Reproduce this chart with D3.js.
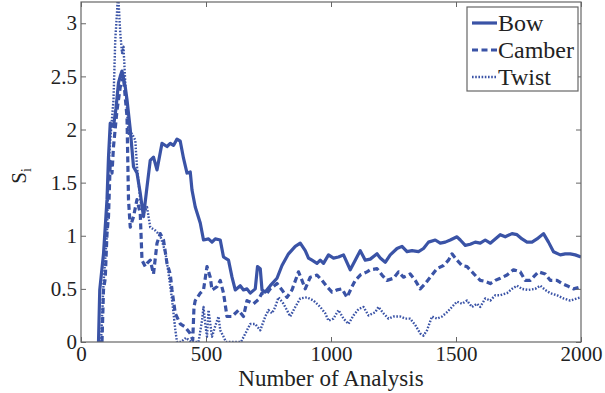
<!DOCTYPE html>
<html>
<head>
<meta charset="utf-8">
<script src="https://cdn.jsdelivr.net/npm/d3@7"></script>
</head>
<body style="margin:0">
<script>
// values: [number of analysis, S_i]
var bow = [[70,0],[75,0.49],[90,0.83],[104,1.34],[110,1.74],[117,2.06],[130,2.03],[140,2.2],[150,2.44],[157,2.5],[164,2.55],
  [177,2.40],[184,2.28],[197,2.0],[210,1.65],[224,1.59],[237,1.40],[250,1.18],[264,1.46],[277,1.71],[290,1.74],[304,1.62],
  [324,1.87],[344,1.84],[357,1.87],[370,1.85],[384,1.91],[397,1.89],[410,1.73],[424,1.59],[437,1.60],[444,1.43],[457,1.27],
  [477,1.12],[490,0.96],[510,0.97],[524,0.94],[537,0.97],[557,0.96],[570,0.80],[590,0.77],[604,0.61],[617,0.49],[637,0.53],
  [650,0.49],[664,0.50],[677,0.46],[697,0.50],[706,0.71],[717,0.69],[724,0.49],[737,0.47],[757,0.53],[784,0.60],[804,0.72],
  [830,0.83],[857,0.90],[877,0.93],[897,0.86],[910,0.79],[924,0.77],[944,0.74],[957,0.77],[970,0.74],[990,0.82],[1010,0.79],
  [1030,0.80],[1050,0.82],[1077,0.68],[1097,0.77],[1117,0.86],[1137,0.77],[1157,0.78],[1184,0.83],[1197,0.79],[1217,0.75],
  [1237,0.82],[1264,0.88],[1284,0.90],[1304,0.85],[1324,0.86],[1350,0.85],[1370,0.88],[1390,0.94],[1417,0.96],[1437,0.93],
  [1457,0.94],[1477,0.96],[1504,0.99],[1517,0.96],[1537,0.91],[1557,0.92],[1577,0.94],[1597,0.93],[1617,0.96],[1637,0.93],
  [1657,0.97],[1677,1.01],[1697,0.99],[1724,1.02],[1744,1.01],[1764,0.97],[1784,0.94],[1804,0.94],[1824,0.97],[1850,1.02],
  [1870,0.94],[1890,0.85],[1917,0.82],[1937,0.83],[1957,0.83],[1977,0.82],[2000,0.80]];

var camber = [[84,0],[90,0.49],[97,0.6],[104,1.02],[110,1.18],[117,1.7],[124,1.59],[130,1.84],[144,2.18],[157,2.40],[170,2.50],
  [177,2.3],[184,2.12],[190,1.34],[197,1.08],[210,1.18],[224,1.34],[237,1.21],[244,0.77],[257,0.71],[264,0.74],[277,0.77],
  [290,0.64],[304,0.93],[317,1.02],[330,0.96],[344,0.74],[357,0.64],[364,0.49],[377,0.27],[397,0.17],[417,0.14],[437,0.08],
  [447,0.02],[452,0.33],[457,0.39],[477,0.46],[490,0.49],[504,0.71],[517,0.61],[524,0.49],[544,0.52],[557,0.58],[570,0.46],
  [584,0.24],[604,0.24],[630,0.30],[650,0.24],[664,0.39],[690,0.36],[710,0.40],[724,0.46],[744,0.46],[757,0.50],[784,0.55],
  [804,0.49],[824,0.42],[844,0.49],[870,0.66],[884,0.58],[897,0.50],[917,0.61],[944,0.63],[964,0.58],[984,0.52],[1004,0.47],
  [1024,0.49],[1044,0.50],[1064,0.42],[1084,0.52],[1097,0.58],[1117,0.63],[1144,0.66],[1157,0.68],[1184,0.69],[1204,0.63],
  [1224,0.58],[1250,0.60],[1270,0.66],[1290,0.61],[1317,0.64],[1337,0.58],[1357,0.50],[1377,0.55],[1397,0.61],[1424,0.69],
  [1450,0.72],[1470,0.77],[1484,0.83],[1504,0.77],[1524,0.72],[1544,0.71],[1564,0.66],[1584,0.61],[1597,0.58],[1617,0.57],
  [1637,0.55],[1657,0.58],[1677,0.60],[1704,0.63],[1730,0.68],[1757,0.66],[1777,0.58],[1797,0.58],[1817,0.63],[1830,0.66],
  [1857,0.64],[1877,0.58],[1904,0.58],[1924,0.55],[1944,0.53],[1970,0.50],[2000,0.52]];

var twist = [[80,0],[90,0.55],[104,1.02],[110,1.65],[117,1.9],[130,2.28],[137,2.84],[144,3.1],[148,3.3],[157,2.91],[164,2.72],
  [170,2.78],[177,2.44],[190,1.96],[204,1.96],[217,1.90],[224,1.65],[237,1.34],[250,1.21],[264,1.27],[277,1.08],[297,1.05],
  [317,1.0],[337,0.85],[350,0.65],[364,0.40],[377,0.12],[384,0],[400,0],[420,0.04],[440,0],[470,0],[484,0.2],[490,0.33],
  [497,0.17],[504,0.05],[510,0.30],[524,0.05],[537,0.15],[550,0.24],[557,0.11],[570,0.05],[580,0],[640,0],[664,0.11],
  [677,0.17],[697,0.17],[717,0.11],[737,0.24],[750,0.30],[764,0.27],[777,0.33],[790,0.42],[810,0.36],[837,0.24],[857,0.33],
  [877,0.41],[904,0.42],[930,0.39],[957,0.33],[977,0.27],[990,0.20],[1010,0.22],[1030,0.30],[1050,0.22],[1070,0.17],
  [1090,0.25],[1110,0.31],[1130,0.33],[1150,0.25],[1177,0.28],[1190,0.33],[1210,0.27],[1230,0.22],[1250,0.24],[1277,0.24],
  [1297,0.22],[1317,0.22],[1337,0.16],[1357,0.08],[1370,0.06],[1384,0.11],[1404,0.24],[1424,0.22],[1444,0.24],[1464,0.28],
  [1484,0.33],[1504,0.38],[1524,0.36],[1544,0.39],[1564,0.33],[1584,0.36],[1597,0.33],[1617,0.41],[1637,0.39],[1657,0.44],
  [1677,0.44],[1704,0.46],[1724,0.50],[1744,0.53],[1764,0.50],[1790,0.49],[1817,0.50],[1837,0.53],[1857,0.49],[1877,0.46],
  [1904,0.44],[1930,0.41],[1957,0.39],[1984,0.41],[2000,0.42]];

var seriesNames = ['Bow', 'Camber', 'Twist'];
var xTicks = [0, 500, 1000, 1500, 2000];
var yTicks = [0, 0.5, 1, 1.5, 2, 2.5, 3];

var W = 605, H = 393;
var margin = {top: 2, right: 24, bottom: 51, left: 81};
var w = W - margin.left - margin.right;
var h = H - margin.top - margin.bottom;
var blue = '#3a53a6';
var serif = "'Liberation Serif'";
var styles = [
  {width: 3.2, dash: null},
  {width: 3.2, dash: '6,3.5'},
  {width: 2.4, dash: '1.6,1.6'}
];

// every text gets the serif face directly, d3 axes otherwise set sans-serif
function serifText(sel, size) {
  sel.attr('font-family', 'Liberation Serif')
    .attr('font-size', size)
    .style('font-family', serif)
    .style('font-size', size + 'px');
}

var svg = d3.select('body').append('svg')
  .attr('width', W).attr('height', H);
var g = svg.append('g').attr('transform', 'translate(' + margin.left + ',' + margin.top + ')');

var x = d3.scaleLinear().domain([0, 2000]).range([0, w]);
var y = d3.scaleLinear().domain([0, 3.2]).range([h, 0]);

g.append('clipPath').attr('id', 'plot-clip')
  .append('rect').attr('width', w).attr('height', h);

var line = d3.line()
  .x(function (d) { return x(d[0]); })
  .y(function (d) { return y(d[1]); });

var lines = g.append('g').attr('clip-path', 'url(#plot-clip)');
[twist, camber, bow].forEach(function (data, k) {
  var s = styles[2 - k];
  lines.append('path')
    .attr('d', line(data))
    .attr('fill', 'none')
    .attr('stroke', blue)
    .attr('stroke-width', s.width)
    .attr('stroke-linejoin', 'round')
    .attr('stroke-dasharray', s.dash);
});

// MATLAB style box with inward ticks on all sides
var axisColor = '#666';
function styleAxis(sel) {
  sel.attr('font-family', 'Liberation Serif').attr('font-size', 21);
  sel.select('.domain').remove();
  sel.selectAll('.tick line').attr('stroke', axisColor).attr('stroke-width', 1);
  sel.selectAll('.tick text').attr('fill', '#222').call(serifText, 21);
}

g.append('g').attr('transform', 'translate(0,' + h + ')')
  .call(d3.axisBottom(x).tickValues(xTicks).tickSize(-5).tickPadding(7).tickFormat(d3.format('d')))
  .call(styleAxis)
  .selectAll('.tick text').attr('dy', '0.57em');
g.append('g')
  .call(d3.axisTop(x).tickValues(xTicks).tickSize(-5).tickFormat(''))
  .call(styleAxis);
g.append('g')
  .call(d3.axisLeft(y).tickValues(yTicks).tickSize(-5).tickPadding(4).tickFormat(function (d) { return d; }))
  .call(styleAxis);
g.append('g').attr('transform', 'translate(' + w + ',0)')
  .call(d3.axisRight(y).tickValues(yTicks).tickSize(-5).tickFormat(''))
  .call(styleAxis);

g.append('rect')
  .attr('width', w).attr('height', h)
  .attr('fill', 'none').attr('stroke', axisColor).attr('stroke-width', 1.2);

// axis labels
svg.append('text')
  .attr('x', margin.left + w / 2)
  .attr('y', 386)
  .attr('text-anchor', 'middle')
  .attr('fill', '#222')
  .call(serifText, 23)
  .text('Number of Analysis');

var ylab = svg.append('text')
  .attr('transform', 'translate(26,176) rotate(-90)')
  .attr('text-anchor', 'middle')
  .attr('fill', '#222')
  .call(serifText, 21);
ylab.append('tspan').text('S');
ylab.append('tspan').attr('dy', 5).call(serifText, 14).text('i');

// legend
var legend = svg.append('g').attr('transform', 'translate(467,7)');
legend.append('rect')
  .attr('width', 111).attr('height', 84)
  .attr('fill', '#fff').attr('stroke', axisColor).attr('stroke-width', 1.2);
seriesNames.forEach(function (name, i) {
  var cy = 16 + i * 27;
  legend.append('line')
    .attr('x1', 5).attr('x2', 30)
    .attr('y1', cy).attr('y2', cy)
    .attr('stroke', blue)
    .attr('stroke-width', styles[i].width)
    .attr('stroke-dasharray', styles[i].dash);
  legend.append('text')
    .attr('x', 31).attr('y', cy + 8)
    .attr('fill', '#222')
    .call(serifText, 24)
    .text(name);
});
</script>
</body>
</html>
